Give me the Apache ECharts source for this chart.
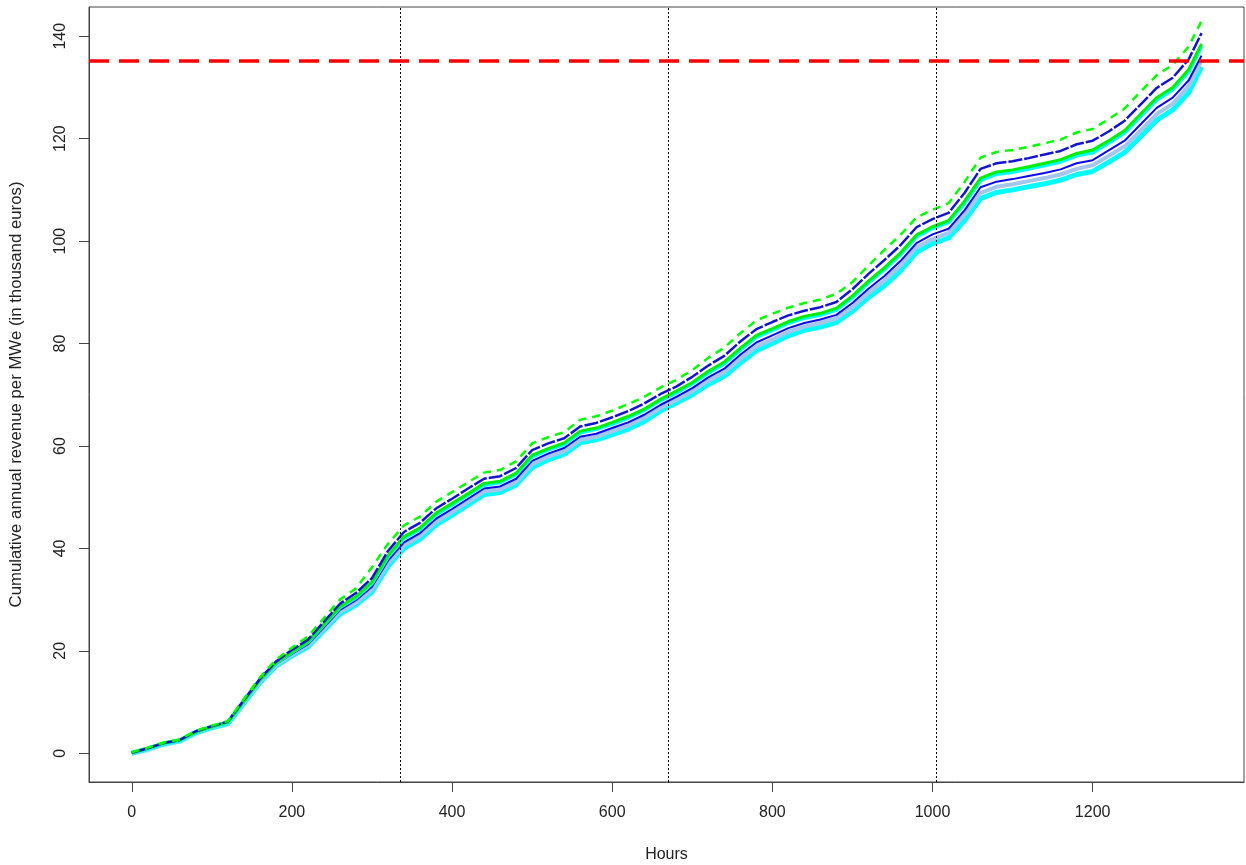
<!DOCTYPE html>
<html>
<head>
<meta charset="utf-8">
<script src="https://cdn.jsdelivr.net/npm/echarts@6/dist/echarts.min.js"></script>
<style>
  html, body { margin: 0; padding: 0; background: #fff; }
  #chart { width: 1246px; height: 865px; }
</style>
</head>
<body>
<div id="chart"></div>
<script>
// hours sampled along the x axis
const hours = [0, 20, 40, 60, 80, 100, 120, 140, 160, 180, 200, 220, 240, 260, 280, 300, 320, 340, 360, 380,
    400, 420, 440, 460, 480, 500, 520, 540, 560, 580, 600, 620, 640, 660, 680, 700, 720, 740, 760, 780,
    800, 820, 840, 860, 880, 900, 920, 940, 960, 980, 1000, 1020, 1040, 1060, 1080, 1100, 1120, 1140, 1160, 1180,
    1200, 1220, 1240, 1260, 1280, 1300, 1320, 1336];

const cyanLow = [0, 0.8, 1.8, 2.4, 4.0, 5.0, 5.8, 9.8, 13.8, 17.0, 19.0, 20.8, 24.0, 27.2, 29.0, 31.5, 36.5, 40.0, 41.8, 44.6,
    46.5, 48.5, 50.5, 50.9, 52.4, 55.8, 57.3, 58.4, 60.6, 61.2, 62.2, 63.3, 64.8, 66.8, 68.4, 70.0, 72.0, 73.6, 76.2, 78.6,
    80.0, 81.5, 82.6, 83.2, 84.1, 86.3, 89.0, 91.3, 94.2, 97.8, 99.5, 100.6, 104.0, 108.3, 109.5, 110.0, 110.6, 111.2, 111.9, 113.0,
    113.6, 115.4, 117.3, 120.4, 123.6, 125.6, 129.0, 134.0];

const lightBlue = [0, 0.8, 1.8, 2.4, 4.1, 5.1, 5.9, 9.9, 13.9, 17.2, 19.2, 21.1, 24.3, 27.6, 29.4, 32.0, 37.1, 40.6, 42.4, 45.2,
    47.1, 49.1, 51.1, 51.5, 53.0, 56.5, 57.9, 59.0, 61.2, 61.8, 62.9, 64.0, 65.5, 67.4, 69.0, 70.7, 72.7, 74.4, 77.0, 79.4,
    80.8, 82.3, 83.3, 84.0, 84.9, 87.1, 89.9, 92.3, 95.2, 98.8, 100.4, 101.6, 105.1, 109.4, 110.6, 111.1, 111.7, 112.3, 113.0, 114.1,
    114.8, 116.6, 118.5, 121.6, 124.8, 126.8, 130.3, 135.3];

const blueLow = [0.1, 0.9, 1.9, 2.5, 4.1, 5.1, 5.9, 10.0, 14.1, 17.4, 19.4, 21.3, 24.6, 28.0, 29.9, 32.5, 37.6, 41.2, 43.0, 45.8,
    47.7, 49.7, 51.7, 52.1, 53.6, 57.1, 58.5, 59.6, 61.8, 62.4, 63.5, 64.6, 66.1, 68.0, 69.6, 71.3, 73.4, 75.1, 77.8, 80.2,
    81.6, 83.0, 84.0, 84.7, 85.6, 87.9, 90.7, 93.2, 96.1, 99.6, 101.3, 102.4, 106.0, 110.5, 111.6, 112.1, 112.7, 113.3, 114.0, 115.2,
    115.8, 117.7, 119.6, 122.8, 126.0, 128.0, 131.4, 136.2];

const cyanHigh = [0.1, 0.9, 1.9, 2.5, 4.2, 5.2, 6.0, 10.2, 14.3, 17.6, 19.7, 21.7, 25.1, 28.5, 30.4, 33.2, 38.4, 42.0, 43.8, 46.6,
    48.5, 50.5, 52.4, 52.9, 54.5, 57.9, 59.3, 60.3, 62.6, 63.3, 64.3, 65.5, 67.0, 68.9, 70.4, 72.2, 74.3, 76.1, 78.8, 81.3,
    82.6, 84.0, 85.0, 85.6, 86.6, 89.0, 91.9, 94.5, 97.4, 100.9, 102.5, 103.7, 107.4, 111.9, 113.1, 113.5, 114.1, 114.8, 115.5, 116.7,
    117.3, 119.2, 121.2, 124.4, 127.6, 129.6, 133.1, 138.1];

const greenSolid = [0.1, 1.0, 2.0, 2.6, 4.2, 5.2, 6.1, 10.2, 14.3, 17.7, 19.8, 21.8, 25.2, 28.6, 30.6, 33.4, 38.6, 42.3, 44.0, 46.9,
    48.8, 50.7, 52.7, 53.1, 54.7, 58.2, 59.5, 60.6, 62.9, 63.5, 64.6, 65.8, 67.2, 69.1, 70.7, 72.4, 74.6, 76.4, 79.1, 81.6,
    82.9, 84.3, 85.3, 85.9, 86.9, 89.3, 92.2, 94.8, 97.7, 101.2, 102.8, 104.0, 107.8, 112.3, 113.5, 113.9, 114.5, 115.2, 115.9, 117.1,
    117.8, 119.6, 121.6, 124.8, 128.0, 130.0, 133.5, 138.5];

const blueHigh = [0.1, 1.0, 2.0, 2.6, 4.3, 5.3, 6.2, 10.4, 14.5, 17.9, 20.2, 22.2, 25.7, 29.2, 31.3, 34.2, 39.5, 43.2, 45.0, 47.8,
    49.7, 51.7, 53.6, 54.1, 55.7, 59.2, 60.5, 61.5, 63.8, 64.5, 65.6, 66.8, 68.3, 70.1, 71.6, 73.5, 75.7, 77.6, 80.4, 82.8,
    84.2, 85.5, 86.4, 87.1, 88.1, 90.6, 93.6, 96.3, 99.2, 102.7, 104.3, 105.5, 109.4, 114.1, 115.2, 115.6, 116.2, 116.9, 117.6, 118.9,
    119.6, 121.4, 123.5, 126.7, 129.9, 131.9, 135.5, 140.6];

const greenDash = [0.2, 1.1, 2.1, 2.7, 4.4, 5.4, 6.3, 10.6, 14.8, 18.3, 20.6, 22.8, 26.4, 30.0, 32.2, 36.3, 40.9, 44.5, 46.2, 49.1,
    51.0, 52.9, 54.8, 55.3, 57.0, 60.5, 61.7, 62.7, 65.1, 65.8, 66.9, 68.2, 69.6, 71.4, 72.9, 74.8, 77.2, 79.2, 82.0, 84.5,
    85.8, 87.0, 87.9, 88.6, 89.7, 92.0, 95.2, 98.3, 101.2, 104.6, 106.1, 107.4, 111.5, 116.3, 117.4, 117.8, 118.4, 119.1, 119.8, 121.2,
    121.9, 123.8, 125.9, 129.2, 132.4, 134.4, 138.0, 143.0];

const xTicks = [0, 200, 400, 600, 800, 1000, 1200];
const yTicks = [0, 20, 40, 60, 80, 100, 120, 140];
const quarterMarks = [335, 670, 1005];
const targetRevenue = 135.3;

const pairs = (vals) => hours.map((h, i) => [h, vals[i]]);

const font = "'Liberation Sans', Arial, sans-serif";
const chart = echarts.init(document.getElementById('chart'));

function lineSeries(vals, color, width, type) {
    return {
        type: 'line',
        data: pairs(vals),
        symbol: 'none',
        silent: true,
        lineStyle: {color: color, width: width, type: type || 'solid', cap: 'butt', join: 'round'}
    };
}

const series = [
    lineSeries(cyanLow, '#00ffff', 5),
    lineSeries(lightBlue, '#a4c6ee', 4),
    lineSeries(blueLow, '#0a0af0', 2),
    lineSeries(cyanHigh, '#00ffff', 4),
    lineSeries(greenSolid, '#00ee00', 3),
    lineSeries(blueHigh, '#1414cc', 2.5, [14, 2]),
    lineSeries(greenDash, '#00ff00', 2.5, [8, 6])
];

series[0].markLine = {
    silent: true,
    symbol: 'none',
    label: {show: false},
    lineStyle: {color: '#000', width: 1, type: [2, 2]},
    data: quarterMarks.map(v => ({xAxis: v}))
};
series.push({
    type: 'line',
    data: [],
    markLine: {
        silent: true,
        symbol: 'none',
        label: {show: false},
        lineStyle: {color: '#ff0000', width: 3.5, type: [20, 10]},
        data: [{yAxis: targetRevenue}]
    }
});

chart.setOption({
    animation: false,
    backgroundColor: '#fff',
    grid: {
        left: 89, right: 2, top: 7, bottom: 83,
        outerBoundsMode: 'none',
        containLabel: false,
        show: true, borderColor: '#444', borderWidth: 1, backgroundColor: 'transparent'
    },
    xAxis: {
        type: 'value',
        min: -53.4,
        max: 1389,
        name: 'Hours',
        nameLocation: 'middle',
        nameGap: 65,
        nameTextStyle: {fontFamily: font, fontSize: 16, color: '#222'},
        axisLine: {show: true, onZero: false, lineStyle: {color: '#444', width: 1}},
        splitLine: {show: false},
        axisTick: {show: true, inside: false, length: 10, customValues: xTicks, lineStyle: {color: '#444', width: 1}},
        axisLabel: {customValues: xTicks, margin: 23, fontFamily: font, fontSize: 16, color: '#222',
            formatter: v => String(v)}
    },
    yAxis: {
        type: 'value',
        min: -5.6,
        max: 145.7,
        name: 'Cumulative annual revenue per MWe (in thousand euros)',
        nameLocation: 'middle',
        nameGap: 64,
        nameTextStyle: {fontFamily: font, fontSize: 16.8, color: '#222'},
        axisLine: {show: true, onZero: false, lineStyle: {color: '#444', width: 1}},
        splitLine: {show: false},
        axisTick: {show: true, inside: false, length: 10, customValues: yTicks, lineStyle: {color: '#444', width: 1}},
        axisLabel: {customValues: yTicks, rotate: 90, margin: 20, fontFamily: font, fontSize: 16, color: '#222',
            formatter: v => String(v)}
    },
    series: series
});
</script>
</body>
</html>
